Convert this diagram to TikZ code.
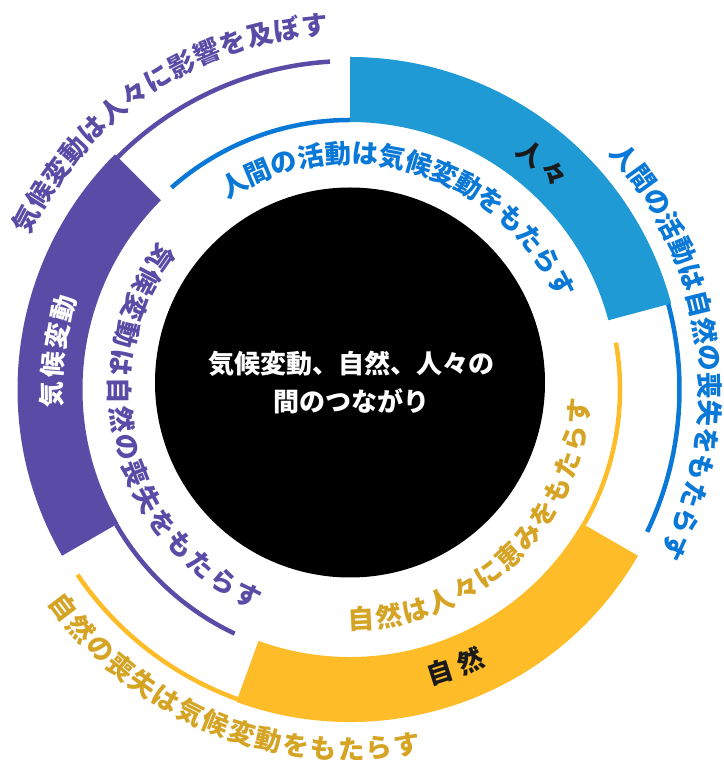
\documentclass[tikz,border=0pt]{standalone}
\usepackage{fontspec}
\newfontfamily\jp{Noto Sans CJK JP}
\usetikzlibrary{calc}
\definecolor{cBlueBlock}{HTML}{1F9AD4}
\definecolor{cBlue}{HTML}{0A78D6}
\definecolor{cPurple}{HTML}{5A4BA6}
\definecolor{cYellow}{HTML}{FEBD28}
\definecolor{cGold}{HTML}{D6A424}
\definecolor{cInk}{HTML}{1A1A1A}
% #1 style, #2 name prefix, #3 radius, #4 start angle, #5 step, #6 rotation offset, #7 characters
\newcommand\arctxt[7]{%
  \foreach \ch [count=\k from 0] in {#7} {%
    \pgfmathsetmacro\ang{#4+\k*(#5)}%
    \pgfmathsetmacro\rot{\ang+(#6)}%
    \node[#1, rotate=\rot] (#2-\k) at ($(C)+(\ang:#3pt)$) {\ch};%
  }%
}
\begin{document}
\begin{tikzpicture}[x=1pt,y=1pt,
  chr/.style={inner sep=0pt, font=\jp\bfseries\fontsize{26.5}{26.5}\selectfont},
  seglbl/.style={inner sep=0pt, font=\jp\bfseries\fontsize{26}{26}\selectfont},
  thinarc/.style={line width=4.5pt}]
\useasboundingbox (0,0) rectangle (723,760);
\coordinate (C) at (350,370.5);
\coordinate (B) at (350,377.5);

% ring blocks
\fill[cBlueBlock, shift={(C)}] (90:332.5pt) arc[start angle=90, end angle=15, radius=332.5pt]
  -- (15:267.5pt) arc[start angle=15, end angle=90, radius=267.5pt] -- cycle;
\fill[cPurple, shift={(C)}] (135:332.5pt) arc[start angle=135, end angle=210, radius=332.5pt]
  -- (210:267.5pt) arc[start angle=210, end angle=135, radius=267.5pt] -- cycle;
\fill[cYellow, shift={(C)}] (-30:332.5pt) arc[start angle=-30, end angle=-110, radius=332.5pt]
  -- (-110:267.5pt) arc[start angle=-110, end angle=-30, radius=267.5pt] -- cycle;

% thin arcs
\draw[cBlue, thinarc, shift={(C)}] (15:329.5pt) arc[start angle=15, end angle=-25.6, radius=329.5pt];
\draw[cBlue, thinarc, shift={(C)}] (90:269.5pt) arc[start angle=90, end angle=131.5, radius=269.5pt];
\draw[cPurple, thinarc, shift={(C)}] (135:328.5pt) arc[start angle=135, end angle=93.5, radius=328.5pt];
\draw[cPurple, thinarc, shift={(C)}] (210:270pt) arc[start angle=210, end angle=244.7, radius=270pt];
\draw[cYellow, thinarc, shift={(C)}] (250:329.5pt) arc[start angle=250, end angle=214.2, radius=329.5pt];
\draw[cYellow, thinarc, shift={(C)}] (-30:270pt) arc[start angle=-30, end angle=10, radius=270pt];

% hub
\node[circle, fill=black, minimum size=390pt, inner sep=0pt] (hub) at (B) {};
\node[text=white, align=center, inner sep=0pt,
  font=\jp\bfseries\fontsize{26}{38.4}\selectfont] (hubtxt) at (351,377.5)
  {気候変動、自然、人々の\\間のつながり};

% segment labels
\arctxt{seglbl, text=cInk}{lp}{297}{52.5}{-5.8}{-90}{人,々}
\arctxt{seglbl, text=cInk}{ln}{297}{-72.3}{6.2}{90}{自,然}
\arctxt{seglbl, text=white}{lc}{298}{180.9}{-5.6}{-90}{気,候,変,動}

% curved texts
\arctxt{chr, text=cBlue}{ta}{236}{119.5}{-6.63}{-90}{人,間,の,活,動,は,気,候,変,動,を,も,た,ら,す}
\arctxt{chr, text=cBlue}{tb}{360}{40.2}{-4.4}{-90}{人,間,の,活,動,は,自,然,の,喪,失,を,も,た,ら,す}
\arctxt{chr, text=cPurple}{tc}{366}{152.2}{-4.36}{-90}{気,候,変,動,は,人,々,に,影,響,を,及,ぼ,す}
\arctxt{chr, text=cPurple}{td}{230}{145.1}{7.04}{90}{気,候,変,動,は,自,然,の,喪,失,を,も,た,ら,す}
\arctxt{chr, text=cGold}{te}{230}{-87.1}{6.8}{90}{自,然,は,人,々,に,恵,み,を,も,た,ら,す}
\arctxt{chr, text=cGold}{tf}{360}{217.2}{4.42}{90}{自,然,の,喪,失,は,気,候,変,動,を,も,た,ら,す}
\end{tikzpicture}
\end{document}
